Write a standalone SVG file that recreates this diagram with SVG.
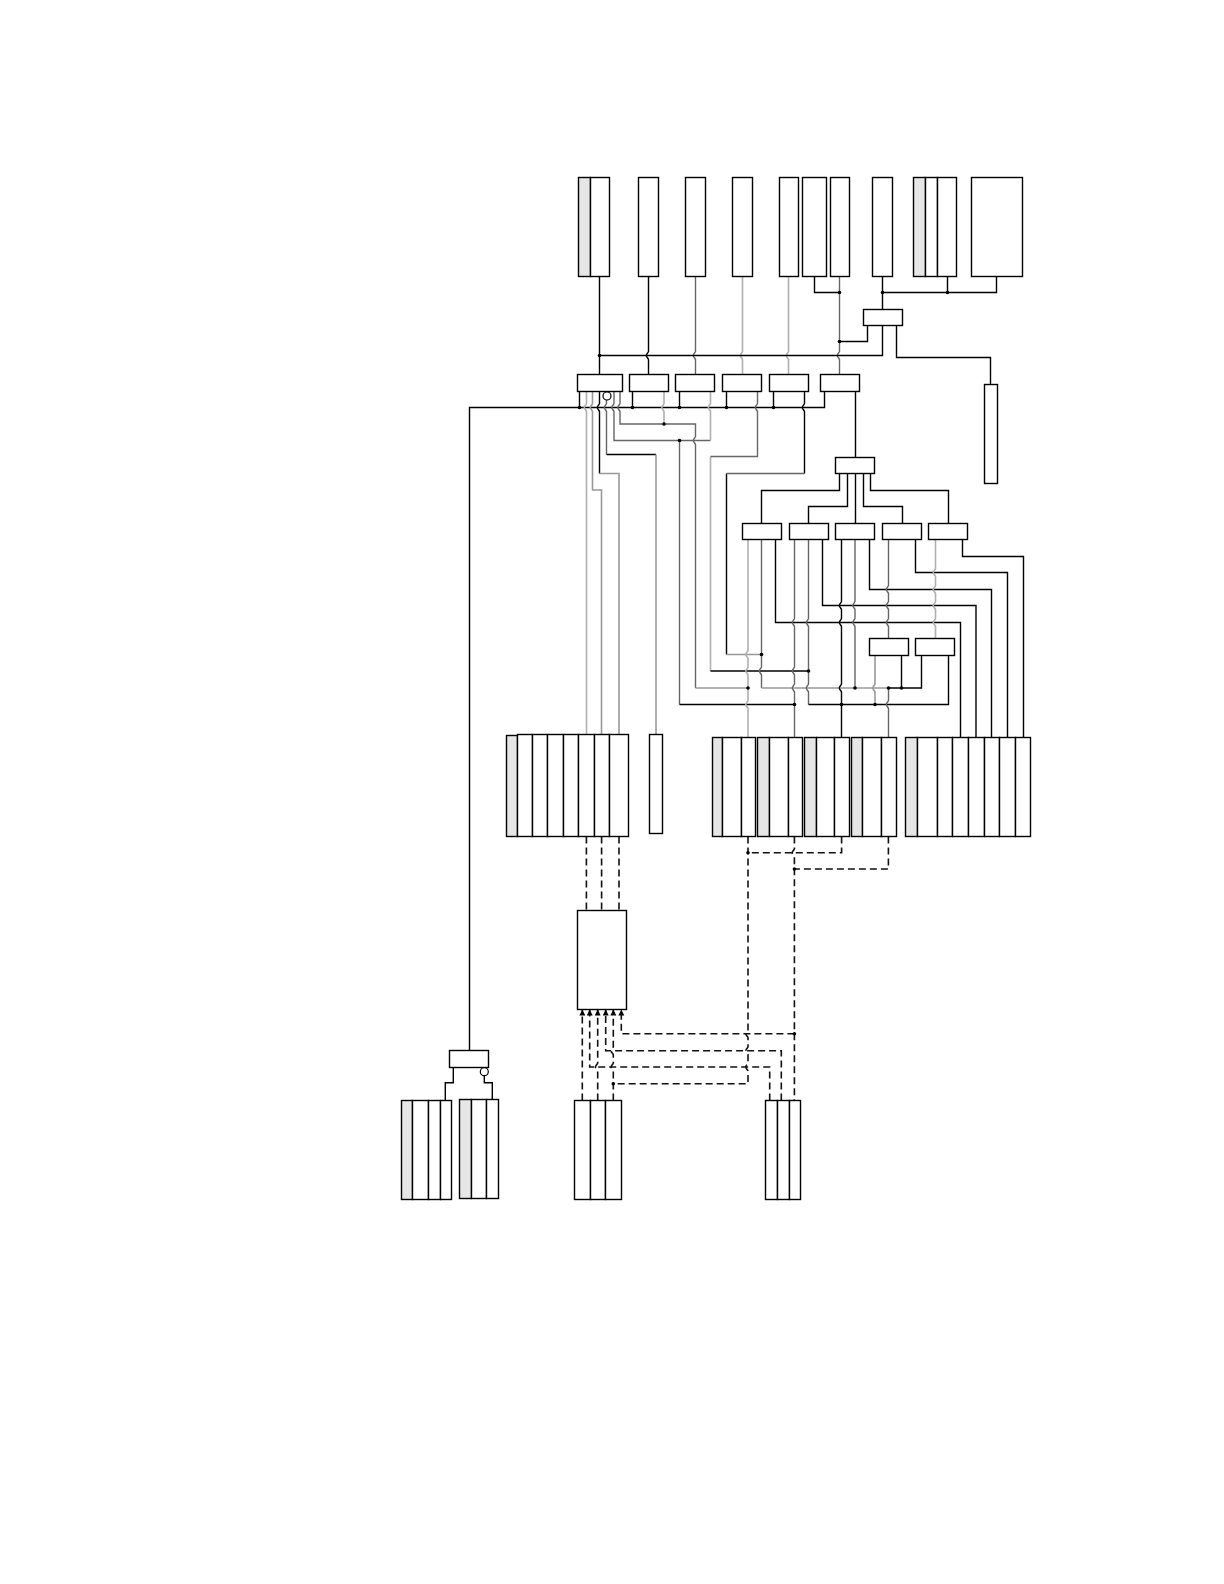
<svg xmlns="http://www.w3.org/2000/svg" width="1224" height="1584" viewBox="0 0 1224 1584">
<style>
rect{fill:#fff;stroke:#000;stroke-width:1.4}
rect.g{fill:#e6e6e6}
circle.o{fill:#fff;stroke:#000;stroke-width:1.2}
path{fill:none;stroke:#000;stroke-width:1.4}
.c1{stroke:#666}
.c2{stroke:#999;stroke-width:1.6}
.c3{stroke:#b0b0b0;stroke-width:1.6}
.d{stroke:#111;stroke-width:1.6;stroke-dasharray:7 4}
.dot{fill:#000;stroke:none}
.mk{fill:#000;stroke:none}
</style>
<defs><marker id="arrow" markerUnits="userSpaceOnUse" markerWidth="6" markerHeight="7" refX="6" refY="3" orient="auto"><path class="mk" d="M0 0L6 3L0 6z"/></marker></defs>
<rect x="0" y="0" width="1224" height="1584" style="fill:#fff;stroke:none"/>
<g id="connectors">
<path d="M599.5 276.5V374.5"/>
<path d="M648.5 276.5V351.5c-.5 1.5-2.2 2.5-2.2 4c0 1.5 1.7 2.5 2.2 4V374.5"/>
<path class="c1" d="M695.5 276.5V351.5c-.5 1.5-2.2 2.5-2.2 4c0 1.5 1.7 2.5 2.2 4V374.5"/>
<path class="c3" d="M742.5 276.5V351.5c-.5 1.5-2.2 2.5-2.2 4c0 1.5 1.7 2.5 2.2 4V374.5"/>
<path class="c3" d="M788.5 276.5V351.5c-.5 1.5-2.2 2.5-2.2 4c0 1.5 1.7 2.5 2.2 4V374.5"/>
<path class="c1" d="M839.5 276.5V351.5c-.5 1.5-2.2 2.5-2.2 4c0 1.5 1.7 2.5 2.2 4V374.5"/>
<path d="M814.5 276.5V292.5H839.5"/>
<path d="M882.5 276.5V309.5"/>
<path d="M882.5 292.5H996.5V276.5M947.5 292.5V276.5"/>
<path d="M867.5 325.5V341.5H839.5"/>
<path d="M882.5 325.5V355.5H599.5"/>
<path d="M896.5 325.5V357.5H990.5V384.5"/>
<path d="M469.5 1050.5V407.5H824.5V391.5"/>
<path d="M579.5 391.5V407.5M632.5 391.5V407.5M679.5 391.5V407.5M726.5 391.5V407.5M773.5 391.5V407.5"/>
<path class="c3" d="M586.5 391.5V403.5c-.5 1.5-2.2 2.5-2.2 4c0 1.5 1.7 2.5 2.2 4V734.5"/>
<path class="c2" d="M592.5 391.5V403.5c-.5 1.5-2.2 2.5-2.2 4c0 1.5 1.7 2.5 2.2 4V490H601.5V734.5"/>
<path d="M599.5 391.5V403.5c-.5 1.5-2.2 2.5-2.2 4c0 1.5 1.7 2.5 2.2 4V473.5"/>
<path class="c2" d="M599.5 473.5H619V734.5"/>
<path class="c1" d="M606.5 400V403.5c-.5 1.5-2.2 2.5-2.2 4c0 1.5 1.7 2.5 2.2 4V454.5"/>
<path d="M606.5 454.5H656"/>
<path class="c2" d="M656 454.5V734.5"/>
<path class="c1" d="M614 391.5V403.5c-.5 1.5-2.2 2.5-2.2 4c0 1.5 1.7 2.5 2.2 4V440.5H710.5"/>
<path class="c3" d="M710.5 391.5V403.5c-.5 1.5-2.2 2.5-2.2 4c0 1.5 1.7 2.5 2.2 4V440.5"/>
<path class="c1" d="M620 391.5V403.5c-.5 1.5-2.2 2.5-2.2 4c0 1.5 1.7 2.5 2.2 4V424H695.5V436.5c-.5 1.5-2.2 2.5-2.2 4c0 1.5 1.7 2.5 2.2 4V688"/>
<path class="c2" d="M695.5 688H748"/>
<path class="c3" d="M664 391.5V403.5c-.5 1.5-2.2 2.5-2.2 4c0 1.5 1.7 2.5 2.2 4V424"/>
<path class="c1" d="M679.5 440.5V704.5"/>
<path d="M679.5 704.5H794.5"/>
<path class="c3" d="M710.5 456.5V671"/>
<path d="M710.5 671H808.5"/>
<path d="M726.5 473.5V654.5"/>
<path class="c2" d="M726.5 654.5H761.5"/>
<path class="c1" d="M757.5 391.5V403.5c-.5 1.5-2.2 2.5-2.2 4c0 1.5 1.7 2.5 2.2 4V456.5H710.5"/>
<path d="M804.5 391.5V403.5c-.5 1.5-2.2 2.5-2.2 4c0 1.5 1.7 2.5 2.2 4V473.5"/>
<path class="c1" d="M804.5 473.5H726.5"/>
<path d="M855.5 391.5V457.5"/>
<path d="M839.5 473.5V490.5H761.5V523.5"/>
<path d="M847.5 473.5V506.5H808.5V523.5"/>
<path d="M855.5 473.5V523.5"/>
<path d="M863.5 473.5V506.5H902.5V523.5"/>
<path d="M870.5 473.5V490.5H948.5V523.5"/>
<path d="M962.5 539.5V556.5H1023.5V737.5"/>
<path d="M915.5 539.5V572.5H1007.5V737.5"/>
<path d="M869.5 539.5V589.5H991.5V737.5"/>
<path d="M822.5 539.5V605.5H976V737.5"/>
<path d="M775.5 539.5V622.5H960.5V737.5"/>
<path class="c3" d="M748 539.5V650.5c-.5 1.5-2.2 2.5-2.2 4c0 1.5 1.7 2.5 2.2 4V667c-.5 1.5-2.2 2.5-2.2 4c0 1.5 1.7 2.5 2.2 4V700.5c-.5 1.5-2.2 2.5-2.2 4c0 1.5 1.7 2.5 2.2 4V737.5"/>
<path class="c1" d="M761.5 539.5V667c-.5 1.5-2.2 2.5-2.2 4c0 1.5 1.7 2.5 2.2 4V688"/>
<path class="c2" d="M761.5 688H888.5"/>
<path d="M888.5 688H921.5V655.5"/>
<path class="c1" d="M794.5 539.5V618.5c-.5 1.5-2.2 2.5-2.2 4c0 1.5 1.7 2.5 2.2 4V667c-.5 1.5-2.2 2.5-2.2 4c0 1.5 1.7 2.5 2.2 4V684c-.5 1.5-2.2 2.5-2.2 4c0 1.5 1.7 2.5 2.2 4V737.5"/>
<path class="c1" d="M808.5 539.5V618.5c-.5 1.5-2.2 2.5-2.2 4c0 1.5 1.7 2.5 2.2 4V684c-.5 1.5-2.2 2.5-2.2 4c0 1.5 1.7 2.5 2.2 4V704.5"/>
<path d="M808.5 704.5H948.5V655.5"/>
<path d="M841.5 539.5V601.5c-.5 1.5-2.2 2.5-2.2 4c0 1.5 1.7 2.5 2.2 4V618.5c-.5 1.5-2.2 2.5-2.2 4c0 1.5 1.7 2.5 2.2 4V684c-.5 1.5-2.2 2.5-2.2 4c0 1.5 1.7 2.5 2.2 4V737.5"/>
<path class="c1" d="M855 539.5V601.5c-.5 1.5-2.2 2.5-2.2 4c0 1.5 1.7 2.5 2.2 4V618.5c-.5 1.5-2.2 2.5-2.2 4c0 1.5 1.7 2.5 2.2 4V688"/>
<path class="c1" d="M888.5 539.5V585.5c-.5 1.5-2.2 2.5-2.2 4c0 1.5 1.7 2.5 2.2 4V601.5c-.5 1.5-2.2 2.5-2.2 4c0 1.5 1.7 2.5 2.2 4V618.5c-.5 1.5-2.2 2.5-2.2 4c0 1.5 1.7 2.5 2.2 4V638.5"/>
<path class="c3" d="M935.5 539.5V568.5c-.5 1.5-2.2 2.5-2.2 4c0 1.5 1.7 2.5 2.2 4V585.5c-.5 1.5-2.2 2.5-2.2 4c0 1.5 1.7 2.5 2.2 4V601.5c-.5 1.5-2.2 2.5-2.2 4c0 1.5 1.7 2.5 2.2 4V618.5c-.5 1.5-2.2 2.5-2.2 4c0 1.5 1.7 2.5 2.2 4V638.5"/>
<path class="c2" d="M875 655.5V684c-.5 1.5-2.2 2.5-2.2 4c0 1.5 1.7 2.5 2.2 4V704.5"/>
<path d="M901.5 655.5V688"/>
<path class="c1" d="M888.5 688V700.5c-.5 1.5-2.2 2.5-2.2 4c0 1.5 1.7 2.5 2.2 4V737.5"/>
<path class="d" d="M586.4 836.5V910.5M601.6 836.5V910.5M619 836.5V910.5"/>
<path class="d" d="M748 836.5V1029.7c-.5 1.5-2.2 2.5-2.2 4c0 1.5 1.7 2.5 2.2 4V1046.7c-.5 1.5-2.2 2.5-2.2 4c0 1.5 1.7 2.5 2.2 4V1063c-.5 1.5-2.2 2.5-2.2 4c0 1.5 1.7 2.5 2.2 4V1083.7H613.3"/>
<path class="d" d="M841.6 836.5V852.7H748"/>
<path class="d" d="M794.4 836.5V848.7c-.5 1.5-2.2 2.5-2.2 4c0 1.5 1.7 2.5 2.2 4V1100.5"/>
<path class="d" d="M888.4 836.5V869H794.4"/>
<path class="d" marker-end="url(#arrow)" d="M582.3 1100.5V1009.5"/>
<path class="d" marker-end="url(#arrow)" d="M769.7 1100.5V1067H589.7V1009.5"/>
<path class="d" marker-end="url(#arrow)" d="M597.7 1100.5V1071c-.5-1.5-2.2-2.5-2.2-4c0-1.5 1.7-2.5 2.2-4V1009.5"/>
<path class="d" marker-end="url(#arrow)" d="M781.3 1100.5V1050.7H605.7V1009.5"/>
<path class="d" marker-end="url(#arrow)" d="M613.3 1100.5V1071c-.5-1.5-2.2-2.5-2.2-4c0-1.5 1.7-2.5 2.2-4V1054.7c-.5-1.5-2.2-2.5-2.2-4c0-1.5 1.7-2.5 2.2-4V1009.5"/>
<path class="d" marker-end="url(#arrow)" d="M794.4 1033.7H621.3V1009.5"/>
<path d="M453.3 1067.5V1082.7H445.3V1100.5"/>
<path d="M484.3 1075.7V1082.7H492.3V1099.5"/>
<g id="junctions">
<circle class="dot" cx="599.5" cy="355.5" r="1.8"/><circle class="dot" cx="839.5" cy="292.5" r="1.8"/><circle class="dot" cx="882.5" cy="292.5" r="1.8"/><circle class="dot" cx="947.5" cy="292.5" r="1.8"/><circle class="dot" cx="839.5" cy="341.5" r="1.8"/><circle class="dot" cx="579.5" cy="407.5" r="1.8"/><circle class="dot" cx="632.5" cy="407.5" r="1.8"/><circle class="dot" cx="679.5" cy="407.5" r="1.8"/><circle class="dot" cx="726.5" cy="407.5" r="1.8"/><circle class="dot" cx="773.5" cy="407.5" r="1.8"/><circle class="dot" cx="664" cy="424" r="1.8"/><circle class="dot" cx="679.5" cy="440.5" r="1.8"/><circle class="dot" cx="761.5" cy="654.5" r="1.8"/><circle class="dot" cx="808.5" cy="671" r="1.8"/><circle class="dot" cx="748" cy="688" r="1.8"/><circle class="dot" cx="855" cy="688" r="1.8"/><circle class="dot" cx="888.5" cy="688" r="1.8"/><circle class="dot" cx="901.5" cy="688" r="1.8"/><circle class="dot" cx="794.5" cy="704.5" r="1.8"/><circle class="dot" cx="841.5" cy="704.5" r="1.8"/><circle class="dot" cx="875" cy="704.5" r="1.8"/><circle class="dot" cx="748" cy="852.7" r="1.8"/><circle class="dot" cx="794.4" cy="869" r="1.8"/><circle class="dot" cx="794.4" cy="1033.7" r="1.8"/><circle class="dot" cx="613.3" cy="1083.7" r="1.8"/>
</g>
</g>
<g id="top-1"><rect class="g" x="578.5" y="177.5" width="12" height="99"/><rect x="590.5" y="177.5" width="19" height="99"/></g>
<g id="top-2"><rect x="638.5" y="177.5" width="20" height="99"/></g>
<g id="top-3"><rect x="685.5" y="177.5" width="20" height="99"/></g>
<g id="top-4"><rect x="732.5" y="177.5" width="20" height="99"/></g>
<g id="top-5"><rect x="779.5" y="177.5" width="19" height="99"/></g>
<g id="top-6"><rect x="802.5" y="177.5" width="24" height="99"/></g>
<g id="top-7"><rect x="830.5" y="177.5" width="19" height="99"/></g>
<g id="top-8"><rect x="872.5" y="177.5" width="20" height="99"/></g>
<g id="top-9"><rect class="g" x="913.5" y="177.5" width="12" height="99"/><rect x="925.5" y="177.5" width="12" height="99"/><rect x="937.5" y="177.5" width="19" height="99"/></g>
<g id="top-10"><rect x="971.5" y="177.5" width="51" height="99"/></g>
<g id="sw-g"><rect x="863.5" y="309.5" width="39" height="16"/></g>
<g id="side-h"><rect x="984.5" y="384.5" width="13" height="99"/></g>
<g id="sw-a"><rect x="577.5" y="374.5" width="45" height="17"/><circle class="o" cx="607" cy="396" r="4"/></g>
<g id="sw-b"><rect x="629.5" y="374.5" width="39" height="17"/></g>
<g id="sw-c"><rect x="675.5" y="374.5" width="39" height="17"/></g>
<g id="sw-d"><rect x="722.5" y="374.5" width="39" height="17"/></g>
<g id="sw-e"><rect x="769.5" y="374.5" width="39" height="17"/></g>
<g id="sw-f"><rect x="820.5" y="374.5" width="39" height="17"/></g>
<g id="sw-n"><rect x="835.5" y="457.5" width="39" height="16"/></g>
<g id="sw-i"><rect x="742.5" y="523.5" width="39" height="16"/></g>
<g id="sw-j"><rect x="789.5" y="523.5" width="39" height="16"/></g>
<g id="sw-k"><rect x="835.5" y="523.5" width="39" height="16"/></g>
<g id="sw-l"><rect x="882.5" y="523.5" width="39" height="16"/></g>
<g id="sw-m"><rect x="928.5" y="523.5" width="39" height="16"/></g>
<g id="sw-o"><rect x="869.5" y="638.5" width="39" height="17"/></g>
<g id="sw-p"><rect x="915.5" y="638.5" width="39" height="17"/></g>
<g id="row-q"><rect class="g" x="506.5" y="735.5" width="11" height="101"/><rect x="517.5" y="734.5" width="15" height="102"/><rect x="532.5" y="734.5" width="15" height="102"/><rect x="547.5" y="734.5" width="16" height="102"/><rect x="563.5" y="734.5" width="15" height="102"/><rect x="578.5" y="734.5" width="16" height="102"/><rect x="594.5" y="734.5" width="15" height="102"/><rect x="609.5" y="734.5" width="19" height="102"/></g>
<g id="row-r"><rect x="649.5" y="734.5" width="13" height="99"/></g>
<g id="row-s"><rect class="g" x="712.5" y="737.5" width="10" height="99"/><rect x="722.5" y="737.5" width="19" height="99"/><rect x="741.5" y="737.5" width="14" height="99"/></g>
<g id="row-t"><rect class="g" x="757.5" y="737.5" width="12" height="99"/><rect x="769.5" y="737.5" width="19" height="99"/><rect x="788.5" y="737.5" width="14" height="99"/></g>
<g id="row-u"><rect class="g" x="804.5" y="737.5" width="12" height="99"/><rect x="816.5" y="737.5" width="18" height="99"/><rect x="834.5" y="737.5" width="15" height="99"/></g>
<g id="row-v"><rect class="g" x="851.5" y="737.5" width="11" height="99"/><rect x="862.5" y="737.5" width="19" height="99"/><rect x="881.5" y="737.5" width="15" height="99"/></g>
<g id="row-w"><rect class="g" x="905.5" y="737.5" width="12" height="99"/><rect x="917.5" y="737.5" width="20" height="99"/><rect x="937.5" y="737.5" width="15" height="99"/><rect x="952.5" y="737.5" width="16" height="99"/><rect x="968.5" y="737.5" width="16" height="99"/><rect x="984.5" y="737.5" width="15" height="99"/><rect x="999.5" y="737.5" width="16" height="99"/><rect x="1015.5" y="737.5" width="15" height="99"/></g>
<g id="block-x"><rect x="577.5" y="910.5" width="49" height="99"/></g>
<g id="row-y"><rect x="574.5" y="1100.5" width="16" height="99"/><rect x="590.5" y="1100.5" width="15" height="99"/><rect x="605.5" y="1100.5" width="16" height="99"/></g>
<g id="row-z"><rect x="765.5" y="1100.5" width="12" height="99"/><rect x="777.5" y="1100.5" width="12" height="99"/><rect x="789.5" y="1100.5" width="11" height="99"/></g>
<g id="sw-aa"><rect x="449.5" y="1050.5" width="39" height="17"/><circle class="o" cx="484.3" cy="1071.7" r="4"/></g>
<g id="row-ab"><rect class="g" x="401.5" y="1100.5" width="11" height="99"/><rect x="412.5" y="1100.5" width="16" height="99"/><rect x="428.5" y="1100.5" width="12" height="99"/><rect x="440.5" y="1100.5" width="11" height="99"/></g>
<g id="row-ac"><rect class="g" x="459.5" y="1099.5" width="12" height="99"/><rect x="471.5" y="1099.5" width="15" height="99"/><rect x="486.5" y="1099.5" width="12" height="99"/></g>
</svg>
